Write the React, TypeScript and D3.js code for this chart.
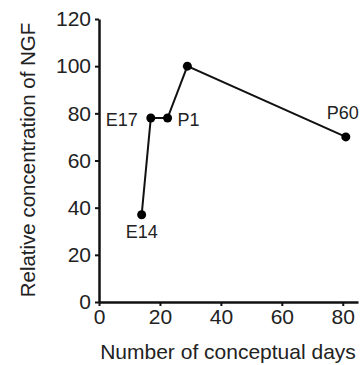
import React, { useEffect, useRef } from 'react';
import * as d3 from 'd3';

// conceptual days and relative NGF concentration
const days = [14, 17, 22.5, 29, 81];
const ngf = [37, 78, 78, 100, 70];
const stageLabels = ['E14', 'E17', 'P1', '', 'P60'];
const yTicks = [0, 20, 40, 60, 80, 100, 120];
const xTicks = [0, 20, 40, 60, 80];

const W = 363;
const H = 365;

const App: React.FC = () => {
  const svgRef = useRef<SVGSVGElement>(null);

  useEffect(() => {
    if (!svgRef.current) return;
    const svg = d3.select(svgRef.current);
    svg.selectAll('*').remove();

    const font = '"Liberation Sans", Arial, sans-serif';

    // scales
    const x = d3.scaleLinear().domain([0, 85]).range([99, 358]);
    const y = d3.scaleLinear().domain([0, 120]).range([302, 19]);

    // Y axis
    const yAxis = svg
      .append('g')
      .attr('transform', `translate(${x(0)},0)`)
      .call(d3.axisLeft(y).tickValues(yTicks).tickSize(4).tickPadding(4).tickSizeOuter(0));
    yAxis.select('.domain').attr('stroke', '#111').attr('stroke-width', 2.5);
    yAxis.selectAll('.tick line').attr('stroke', '#111').attr('stroke-width', 2);
    yAxis
      .selectAll('.tick text')
      .attr('font-family', font)
      .attr('font-size', 21)
      .attr('fill', '#222');

    // X axis
    const xAxis = svg
      .append('g')
      .attr('transform', `translate(0,${y(0)})`)
      .call(d3.axisBottom(x).tickValues(xTicks).tickSize(4).tickPadding(3).tickSizeOuter(0));
    xAxis.select('.domain').attr('stroke', '#111').attr('stroke-width', 2.5);
    xAxis.selectAll('.tick line').attr('stroke', '#111').attr('stroke-width', 2);
    xAxis
      .selectAll('.tick text')
      .attr('font-family', font)
      .attr('font-size', 21)
      .attr('fill', '#222');

    // axis titles
    svg
      .append('text')
      .attr('x', 228)
      .attr('y', 359)
      .attr('text-anchor', 'middle')
      .attr('font-family', font)
      .attr('font-size', 21)
      .attr('fill', '#222')
      .text('Number of conceptual days');

    svg
      .append('text')
      .attr('transform', 'translate(35,160) rotate(-90)')
      .attr('text-anchor', 'middle')
      .attr('font-family', font)
      .attr('font-size', 20.5)
      .attr('fill', '#222')
      .text('Relative concentration of NGF');

    const data = days.map((d, i) => ({ day: d, value: ngf[i], label: stageLabels[i] }));

    // line
    const line = d3
      .line<{ day: number; value: number }>()
      .x(d => x(d.day))
      .y(d => y(d.value));

    svg
      .append('path')
      .datum(data)
      .attr('fill', 'none')
      .attr('stroke', '#111')
      .attr('stroke-width', 2)
      .attr('d', line);

    svg
      .selectAll('circle.pt')
      .data(data)
      .enter()
      .append('circle')
      .attr('class', 'pt')
      .attr('cx', d => x(d.day))
      .attr('cy', d => y(d.value))
      .attr('r', 4.5)
      .attr('fill', '#000');

    // stage labels
    const offsets: Record<string, [number, number, string]> = {
      E14: [0, 23, 'middle'],
      E17: [-13, 8, 'end'],
      P1: [10, 8, 'start'],
      P60: [-3, -18, 'middle'],
    };
    data
      .filter(d => d.label)
      .forEach(d => {
        const [dx, dy, anchor] = offsets[d.label];
        svg
          .append('text')
          .attr('x', x(d.day) + dx)
          .attr('y', y(d.value) + dy)
          .attr('text-anchor', anchor)
          .attr('font-family', font)
          .attr('font-size', 18)
          .attr('fill', '#222')
          .text(d.label);
      });
  }, []);

  return (
    <svg
      ref={svgRef}
      width={W}
      height={H}
      style={{ position: 'absolute', left: 0, top: 0, background: '#fff' }}
    />
  );
};

export default App;
